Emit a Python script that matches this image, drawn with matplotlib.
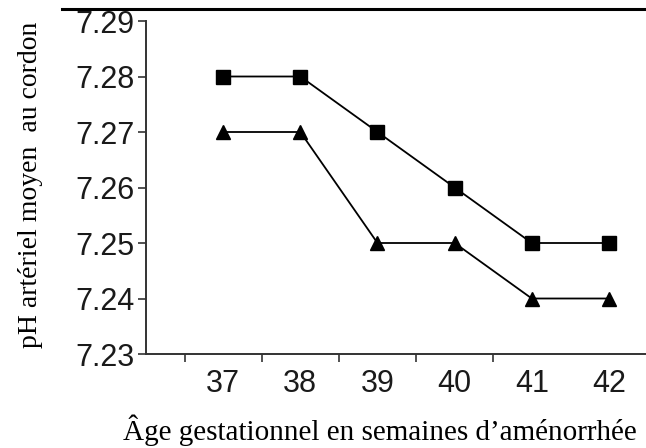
import numpy as np
import matplotlib.pyplot as plt
from matplotlib.lines import Line2D

# gestational age (weeks) and mean cord arterial pH
weeks = [37, 38, 39, 40, 41, 42]
ph_squares = [7.28, 7.28, 7.27, 7.26, 7.25, 7.25]
ph_triangles = [7.27, 7.27, 7.25, 7.25, 7.24, 7.24]
yticks = [7.23, 7.24, 7.25, 7.26, 7.27, 7.28, 7.29]

W, H = 646, 448
fig = plt.figure(figsize=(W / 100, H / 100), dpi=100)
ax = fig.add_axes([146 / W, (H - 354) / H, 1 - 146 / W, (354 - 21) / H])

ax.plot(weeks, ph_squares, color='black', lw=1.3, marker='s', ms=10, clip_on=False)
ax.plot(weeks, ph_triangles, color='black', lw=1.3, marker='^', ms=10, clip_on=False)

ax.set_xlim(36, 42.48)
ax.set_ylim(7.23, 7.29)

for s in ['top', 'right']:
    ax.spines[s].set_visible(False)
for s in ['left', 'bottom']:
    ax.spines[s].set_linewidth(1.4)
    ax.spines[s].set_color('#333333')

ax.set_yticks(yticks)
ax.set_yticklabels(['%.2f' % v for v in yticks], fontsize=22, family='Liberation Sans', color='#1a1a1a')
ax.tick_params(axis='y', direction='out', length=6, width=1.2, color='#333333', pad=2)

ax.set_xticks(weeks)
ax.set_xticklabels([str(w) for w in weeks], fontsize=22, family='Liberation Sans', color='#1a1a1a')
ax.tick_params(axis='x', which='major', length=0, pad=11)
ax.set_xticks(np.array(weeks[:-1]) - 0.5, minor=True)
ax.tick_params(axis='x', which='minor', direction='out', length=6, width=1.2, color='#333333')

fig.text(123 / W, 1 - 440 / H, 'Âge gestationnel en semaines d\u2019aménorrhée',
         ha='left', va='baseline', fontsize=21, family='Liberation Serif')
fig.text(31 / W, 1 - 185 / H, 'pH artériel moyen  au cordon', rotation=90,
         ha='center', va='center', fontsize=20, family='Liberation Serif')

# horizontal rule at the top of the figure
fig.add_artist(Line2D([62 / W, 1], [1 - 9 / H, 1 - 9 / H], color='black', lw=2.2))

fig.savefig('out.png', dpi=100)
